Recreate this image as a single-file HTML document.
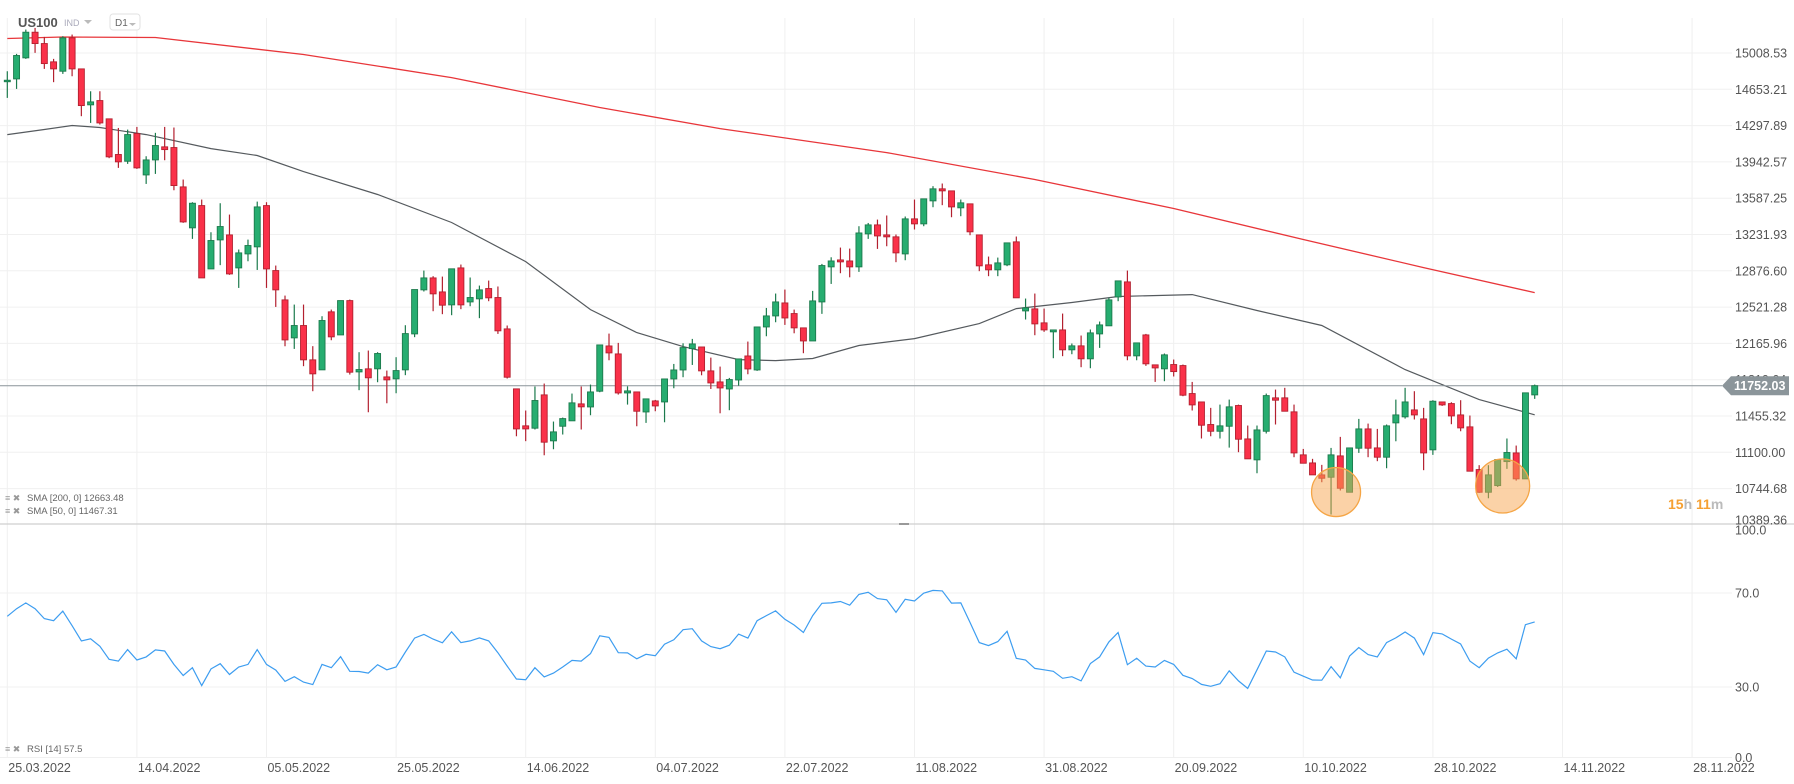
<!DOCTYPE html>
<html><head><meta charset="utf-8"><style>
html,body{margin:0;padding:0;background:#fff;}
svg{display:block;font-family:"Liberation Sans",Arial,sans-serif;}
</style></head><body>
<svg id="chart" width="1794" height="784" viewBox="0 0 1794 784" xmlns="http://www.w3.org/2000/svg">
<g id="grid"></g>
<g id="smaLines"></g>
<g id="candles"></g>
<g id="overlay"></g>
<g id="rsi"></g>
<g id="axes"></g>
<g>
  <text x="18" y="27" font-size="13" font-weight="bold" fill="#555">US100</text>
  <text x="64" y="26" font-size="9" fill="#aab">IND</text>
  <polygon points="84,20 92,20 88,24" fill="#bbb"/>
  <rect x="110" y="14" width="30" height="16" rx="3" fill="#fff" stroke="#e2e2e2"/>
  <text x="115" y="26" font-size="10" fill="#666">D1</text>
  <polygon points="129,23 136,23 132.5,26" fill="#bbb"/>
</g>
<g>
  <text x="5" y="501" font-size="9" fill="#999">≡ ✖</text>
  <text x="27" y="501" font-size="9.5" fill="#666">SMA [200, 0]  12663.48</text>
  <text x="5" y="514" font-size="9" fill="#999">≡ ✖</text>
  <text x="27" y="514" font-size="9.5" fill="#666">SMA [50, 0]  11467.31</text>
  <text x="5" y="752" font-size="9" fill="#999">≡ ✖</text>
  <text x="27" y="752" font-size="9.5" fill="#666">RSI [14]  57.5</text>
</g>
<g>
  <text x="1668" y="509" font-size="14" font-weight="bold"><tspan fill="#f5a032">15</tspan><tspan fill="#bbb">h </tspan><tspan fill="#f5a032">11</tspan><tspan fill="#bbb">m</tspan></text>
</g>
</svg>
<script>
const O=[14729,14755,14961,15212,15101,14922,14830,15157,14853,14501,14543,14364,14015,13949,14220,13815,13962,14090,14083,13698,13297,13515,12895,13179,13228,12905,13042,13111,13515,12879,12592,12220,12341,12005,11907,12475,12249,12585,11887,11917,11917,11838,11819,11907,12259,12690,12807,12670,12543,12905,12572,12602,12703,12615,12308,11721,11359,11336,11662,11212,11355,11408,11574,11544,11698,12141,12063,11681,11691,11495,11603,11593,11818,11906,12115,12131,11897,11789,11720,11808,12043,11906,12327,12435,12562,12458,12318,12190,12572,12915,12983,12973,12915,13238,13326,13228,13209,13042,13385,13336,13561,13679,13659,13493,13532,13228,12935,12886,12935,13160,12484,12504,12367,12279,12298,12103,12142,12015,12259,12338,12621,12768,12044,12249,11956,11917,11959,11949,11675,11593,11372,11306,11355,11558,11231,11026,11306,11633,11633,11496,11075,10996,10879,10856,11065,10709,11140,11329,11143,11052,11388,11447,11515,11427,11124,11593,11577,11466,11349,10931,10709,10774,11009,11094,10840,11662];
const H=[14830,15000,15238,15254,15166,14951,15173,15189,14853,14634,14634,14364,14275,14259,14285,13998,14227,14285,14279,13770,13548,13574,13254,13538,13427,13085,13182,13554,13548,12928,12634,12546,12546,12139,12432,12497,12585,12595,12080,12096,12080,11900,12031,12344,12693,12879,12824,12820,12896,12938,12811,12732,12781,12723,12341,11721,11509,11744,11773,11401,11440,11675,11744,11763,12151,12262,12171,11746,11691,11623,11613,11818,11965,12167,12210,12131,12027,11939,11828,12014,12184,12327,12513,12654,12693,12497,12318,12680,12944,13009,13104,13094,13313,13345,13378,13418,13232,13408,13574,13581,13705,13731,13659,13574,13532,13228,13016,13006,13150,13212,12605,12654,12507,12298,12458,12165,12243,12302,12380,12612,12778,12879,12171,12259,11956,12067,12008,11959,11789,11593,11535,11567,11616,11567,11362,11362,11675,11714,11731,11567,11133,11036,10977,11143,11251,11143,11427,11381,11329,11372,11616,11731,11698,11535,11610,11593,11590,11610,11460,10974,10974,11029,11235,11166,11682,11763];
const L=[14569,14657,14951,15010,14853,14723,14804,14781,14390,14324,14308,13979,13884,13923,13874,13727,13825,13959,13665,13346,13189,12807,12895,12932,12837,12709,12970,12885,12709,12523,12138,12112,11943,11698,11907,12197,12249,11861,11708,11492,11786,11580,11678,11855,12227,12674,12481,12452,12442,12501,12530,12413,12579,12259,11822,11257,11209,11323,11071,11130,11274,11408,11323,11463,11688,12001,11665,11567,11355,11388,11502,11394,11727,11835,11955,11854,11720,11482,11512,11753,11864,11897,12236,12373,12347,12265,12070,12190,12455,12748,12853,12813,12866,13189,13091,13117,12961,12980,13281,13313,13499,13519,13401,13411,13225,12873,12824,12824,12922,12612,12400,12246,12279,12021,12041,12060,11933,11923,12122,12338,12579,12001,12001,11946,11789,11796,11842,11649,11509,11235,11257,11235,11146,11101,11036,10895,11284,11372,11502,11052,10993,10879,10807,10491,10726,10709,11094,11052,11013,10944,11208,11430,11421,10925,11075,11554,11375,11306,10915,10703,10650,10761,10938,10823,10840,11623];
const C=[14742,14984,15212,15101,14905,14853,15157,14853,14494,14530,14324,13992,13943,14210,13884,13962,14103,14063,13711,13355,13538,12807,13173,13310,12846,13052,13124,13502,12895,12690,12200,12341,12005,11868,12390,12230,12585,11884,11910,11829,12067,11809,11900,12262,12693,12807,12651,12540,12896,12543,12615,12690,12612,12289,11835,11329,11329,11607,11199,11300,11430,11584,11545,11691,12151,12073,11681,11701,11502,11623,11554,11818,11906,12125,12161,11897,11779,11730,11812,12014,11916,12327,12435,12572,12415,12318,12190,12582,12928,12973,12964,12915,13247,13326,13218,13209,13052,13385,13336,13581,13679,13659,13502,13542,13258,12925,12886,12954,13150,12612,12514,12357,12298,12298,12103,12142,12015,12269,12347,12592,12778,12044,12171,11966,11926,12054,11890,11659,11564,11365,11306,11359,11545,11228,11036,11319,11655,11610,11502,11094,10993,10879,10846,11075,10748,11143,11329,11140,11052,11359,11466,11593,11466,11094,11600,11564,11456,11339,10915,10709,10879,11029,11098,10840,11682,11752];
const rsiValues=[60.1,63.3,65.8,63.3,59.1,58.2,62.3,56.1,49.6,50.5,47.3,41.8,41.0,45.9,41.5,42.8,45.8,45.3,39.6,34.9,38.2,30.6,37.7,39.9,35.3,38.5,39.6,45.9,39.6,37.2,32.4,34.4,32.1,31.0,39.6,38.2,42.9,36.7,36.6,35.9,39.5,37.3,38.5,44.9,50.8,52.4,50.4,48.8,53.5,48.9,49.6,50.9,49.6,44.6,38.9,33.4,33.1,38.2,34.3,35.9,38.5,41.3,41.0,44.2,51.8,51.1,44.6,44.5,42.0,43.9,43.3,48.2,50.1,54.4,54.8,49.6,47.2,46.3,47.8,52.5,50.8,58.2,60.4,62.4,58.8,56.4,53.2,60.4,65.6,65.8,66.4,64.8,69.4,70.3,67.6,67.1,61.8,67.3,66.6,69.9,71.1,70.9,65.7,65.8,57.5,48.9,47.6,49.3,53.7,42.2,41.5,37.9,37.3,36.7,33.7,34.4,32.6,40.0,42.8,49.2,53.2,39.5,42.2,38.9,38.5,41.3,39.6,35.0,33.6,31.1,30.3,31.4,36.9,32.6,29.4,37.3,45.3,44.9,42.8,36.3,34.6,33.0,32.9,38.7,33.9,43.2,46.8,43.8,42.8,48.9,50.9,53.4,50.8,43.8,53.1,52.6,50.4,48.3,41.0,38.2,42.3,44.5,46.1,42.0,56.5,57.7];
const sma200Idx=[0,6,16,32,48,64,77,95,111,126,140,153,165];
const sma200Val=[15150,15165,15160,14994,14768,14475,14269,14034,13770,13486,13183,12908,12663];
const sma50Idx=[0,4,7,10,15,22,27,32,40,48,56,63,68,73,79,83,87,92,98,105,109,115,120,128,135,142,151,159,165];
const sma50Val=[14210,14260,14299,14279,14210,14073,14005,13848,13623,13349,12967,12497,12272,12135,12007,11998,12018,12145,12213,12360,12507,12566,12625,12644,12488,12341,11910,11616,11467];
const priceTicks=[15008.53,14653.21,14297.89,13942.57,13587.25,13231.93,12876.60,12521.28,12165.96,11810.64,11455.32,11100.00,10744.68,10389.36];
const rsiTicks=[100,70,30,0];
const dateLabels=["25.03.2022","14.04.2022","05.05.2022","25.05.2022","14.06.2022","04.07.2022","22.07.2022","11.08.2022","31.08.2022","20.09.2022","10.10.2022","28.10.2022","14.11.2022","28.11.2022"];
const lastPrice=11752.03;
const circleIdx=[143,161];
const circlePrice=[10711,10770];

const NS="http://www.w3.org/2000/svg";
function mk(tag,attrs,parent){const e=document.createElementNS(NS,tag);for(const k in attrs)e.setAttribute(k,attrs[k]);parent.appendChild(e);return e;}
const X0=7.3,STEP=9.257;
function xAt(i){return X0+STEP*i;}
function yP(p){return 53+(15008.53-p)*36.3/355.32;}
function yR(v){return 757.5-2.35*v;}

const grid=document.getElementById('grid');
const axes=document.getElementById('axes');
dateLabels.forEach((d,k)=>{
  const x=xAt(14*k);
  const ln=mk('line',{x1:x,x2:x,y1:18,y2:758,stroke:'#f0f0f0','stroke-width':1},grid);
  
  
  const t=mk('text',{x:x+1,y:772,'font-size':12.5,fill:'#555'},axes);
  t.textContent=d;
  
  
});
priceTicks.forEach(p=>{
  const y=yP(p);
  if(y<522){
    const ln=mk('line',{x1:0,x2:1732,y1:y,y2:y,stroke:'#f0f0f0','stroke-width':1},grid);
    
    
  }
  const t=mk('text',{x:1735,y:Math.min(y,520)+4.5,'font-size':12.5,fill:'#555'},axes);
  t.textContent=p.toFixed(2);
  
  
});
const sep=mk('line',{x1:0,x2:1794,y1:524,y2:524,stroke:'#cfcfcf','stroke-width':1.2},grid);


const hdl=mk('rect',{x:899,y:523,width:10,height:2,fill:'#999'},grid);


rsiTicks.forEach(v=>{
  const y=yR(v);
  if(v<100){
    const ln=mk('line',{x1:0,x2:1732,y1:y,y2:y,stroke:'#f0f0f0','stroke-width':1},grid);
    
    
  }
  const t=mk('text',{x:1735,y:(v===100?530:y)+4.5,'font-size':12.5,fill:'#555'},axes);
  t.textContent=v.toFixed(1);
  
  
});

const smaG=document.getElementById('smaLines');
function linePath(idx,val,yf){return idx.map((i,k)=>(k?'L':'M')+xAt(i).toFixed(1)+','+yf(val[k]).toFixed(1)).join(' ');}
const s200=mk('path',{d:linePath(sma200Idx,sma200Val,yP),fill:'none',stroke:'#e8363a','stroke-width':1.3},smaG);


const s50=mk('path',{d:linePath(sma50Idx,sma50Val,yP),fill:'none',stroke:'#555a5e','stroke-width':1.2},smaG);



const lp=mk('line',{x1:0,x2:1722,y1:yP(lastPrice),y2:yP(lastPrice),stroke:'#8a9499','stroke-width':1},smaG);



const cg=document.getElementById('candles');
for(let i=0;i<O.length;i++){
  const up=C[i]>=O[i];
  const x=xAt(i);
  const g=mk('g',{},cg);
  
  
  const wc=up?'#1b7a4c':'#b3202f';
  mk('line',{x1:x,x2:x,y1:yP(H[i]),y2:yP(L[i]),stroke:wc,'stroke-width':1.2},g);
  const top=yP(Math.max(O[i],C[i])),bot=yP(Math.min(O[i],C[i]));
  mk('rect',{x:x-3,y:top,width:6,height:Math.max(bot-top,1.5),fill:up?'#26ad70':'#fa3149',stroke:wc,'stroke-width':0.9},g);
}

const ov=document.getElementById('overlay');
circleIdx.forEach((ci,k)=>{
  const c=mk('circle',{cx:xAt(ci)+5,cy:yP(circlePrice[k]),r:k?27:24.5,fill:'rgba(247,165,80,0.5)',stroke:'#f5a545','stroke-width':1.3},ov);
  
  
});

const rg=document.getElementById('rsi');
const rp=mk('path',{d:rsiValues.map((v,i)=>(i?'L':'M')+xAt(i).toFixed(1)+','+yR(v).toFixed(1)).join(' '),fill:'none',stroke:'#3d9df0','stroke-width':1.2},rg);



const ty=yP(lastPrice);
const tag=mk('polygon',{points:`1722,${ty} 1731,${ty-9.5} 1789,${ty-9.5} 1789,${ty+9.5} 1731,${ty+9.5}`,fill:'#8b959a'},axes);


const tt=mk('text',{x:1734,y:ty+4.5,'font-size':12.5,'font-weight':'bold',fill:'#fff'},axes);
tt.textContent=lastPrice.toFixed(2);


</script>
</body></html>
